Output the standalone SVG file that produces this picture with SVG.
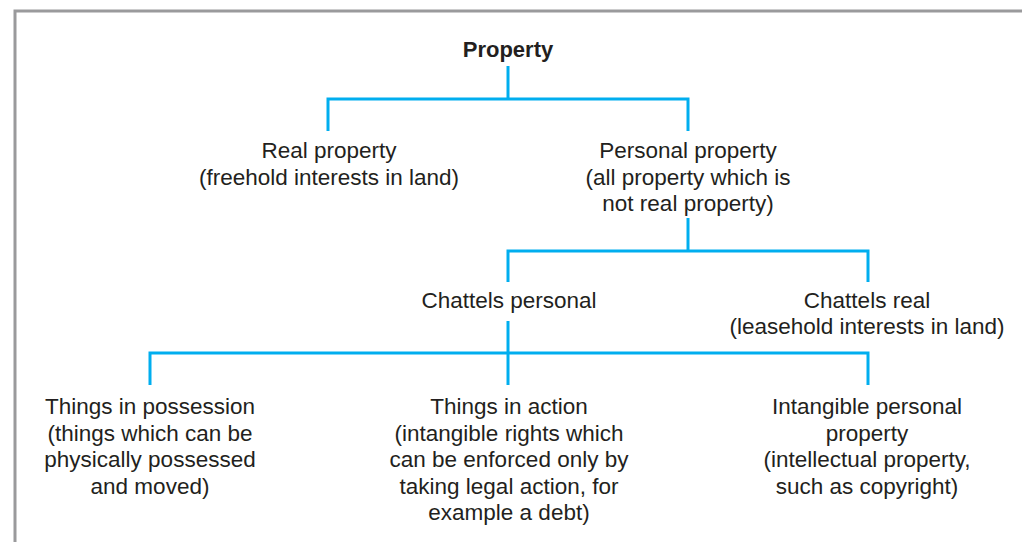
<svg xmlns="http://www.w3.org/2000/svg" width="1022" height="542" viewBox="0 0 1022 542">
<style>
.t{font-family:"Liberation Sans",Arial,sans-serif;font-size:22.5px;fill:#231f20;text-anchor:middle}
.b{font-weight:bold;font-size:22px}
.c{fill:none;stroke:#00aeef;stroke-width:3;stroke-linejoin:miter}
.frame{fill:none;stroke:#9a9a9c;stroke-width:3}
</style>
<rect width="1022" height="542" fill="#fff"/>
<path class="frame" d="M15,542 V11 H1022"/>
<g id="connectors">
<path class="c" d="M508,66 V99"/>
<path class="c" d="M328,131 V99 H688 V131"/>
<path class="c" d="M688,218 V251"/>
<path class="c" d="M508,282 V251 H868 V282"/>
<path class="c" d="M508,321 V385"/>
<path class="c" d="M150,385 V353 H868 V385"/>
</g>
<g id="property"><text class="t b" x="508" y="57">Property</text></g>
<g id="real-property"><text class="t" x="329" y="158">Real property</text><text class="t" x="329" y="184.5">(freehold interests in land)</text></g>
<g id="personal-property"><text class="t" x="688" y="158">Personal property</text><text class="t" x="688" y="184.5">(all property which is</text><text class="t" x="688" y="211">not real property)</text></g>
<g id="chattels-personal"><text class="t" x="509" y="307.5">Chattels personal</text></g>
<g id="chattels-real"><text class="t" x="867" y="307.5">Chattels real</text><text class="t" x="867" y="334">(leasehold interests in land)</text></g>
<g id="things-in-possession"><text class="t" x="150" y="414">Things in possession</text><text class="t" x="150" y="440.5">(things which can be</text><text class="t" x="150" y="467">physically possessed</text><text class="t" x="150" y="493.5">and moved)</text></g>
<g id="things-in-action"><text class="t" x="509" y="414">Things in action</text><text class="t" x="509" y="440.5">(intangible rights which</text><text class="t" x="509" y="467">can be enforced only by</text><text class="t" x="509" y="493.5">taking legal action, for</text><text class="t" x="509" y="520">example a debt)</text></g>
<g id="intangible-personal-property"><text class="t" x="867" y="414">Intangible personal</text><text class="t" x="867" y="440.5">property</text><text class="t" x="867" y="467">(intellectual property,</text><text class="t" x="867" y="493.5">such as copyright)</text></g>
</svg>
